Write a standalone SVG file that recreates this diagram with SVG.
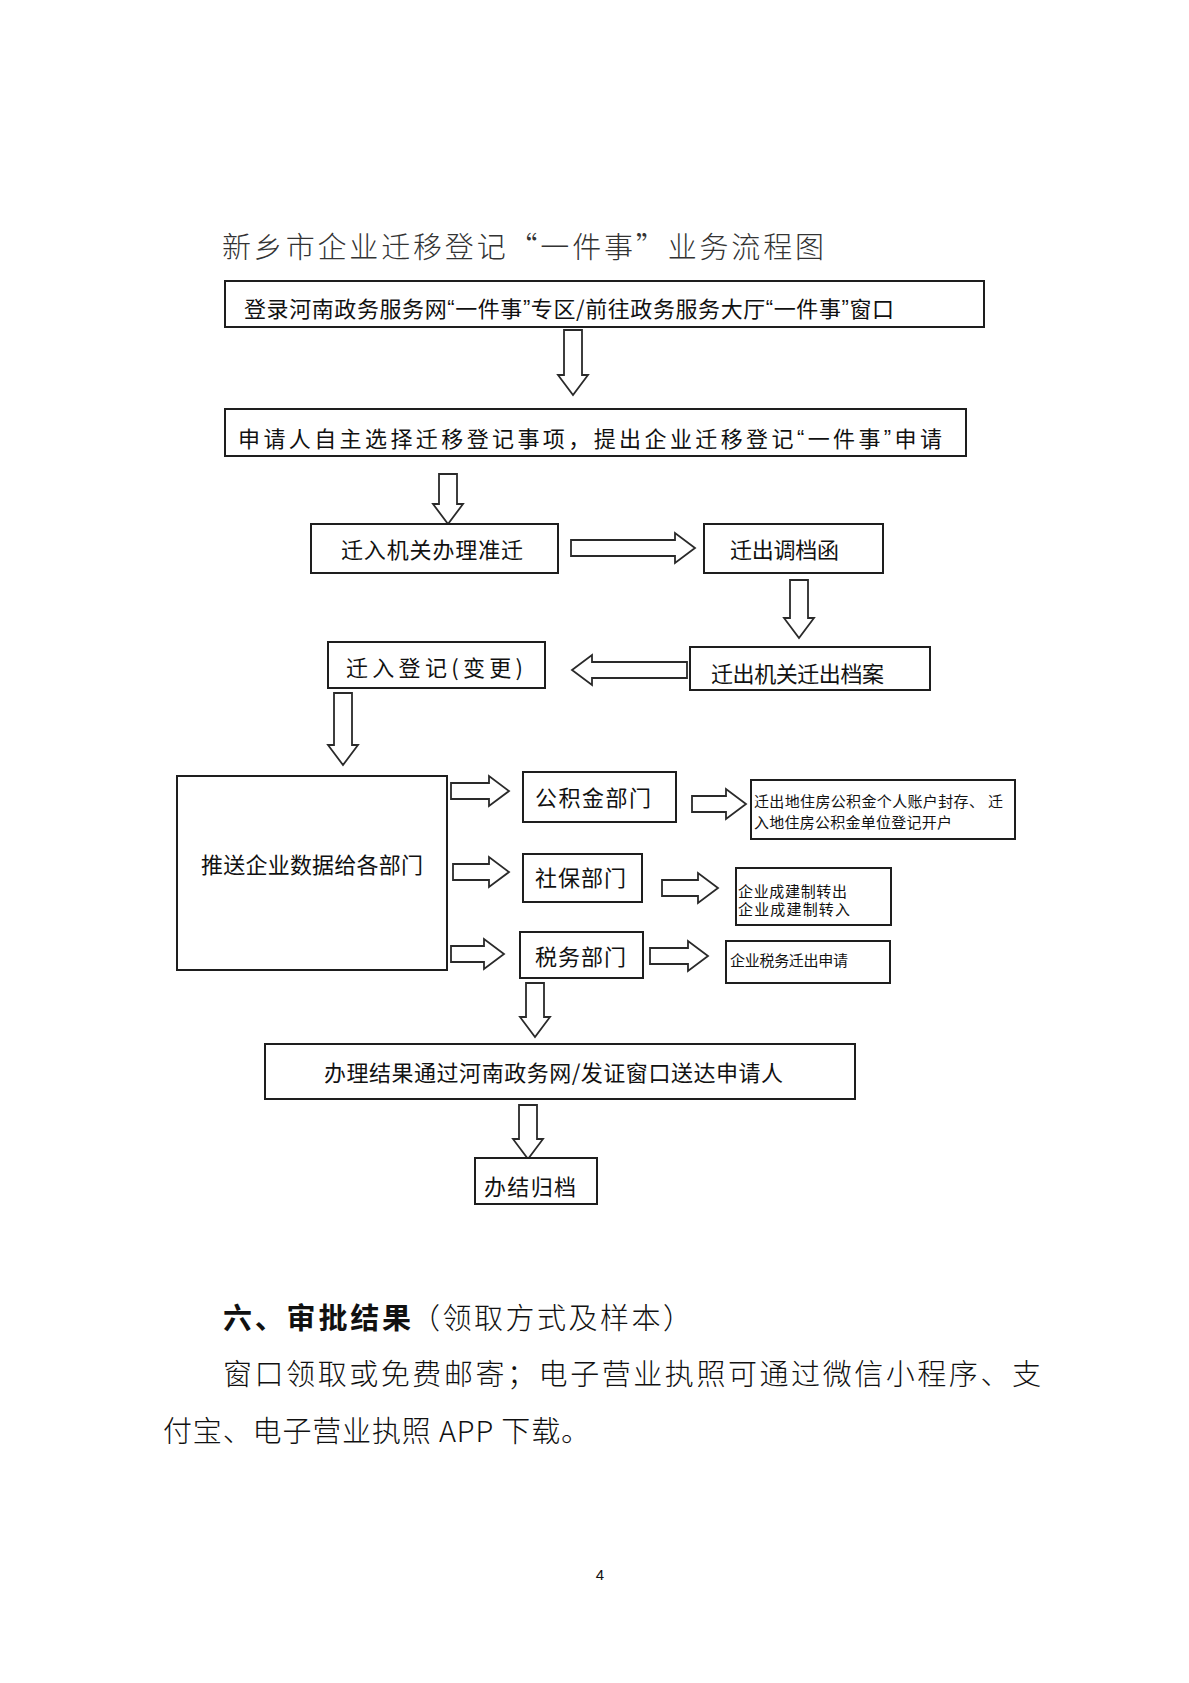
<svg xmlns="http://www.w3.org/2000/svg" width="1189" height="1683" viewBox="0 0 1189 1683">
<style>
.box{fill:#fff;stroke:#1e1e1e;stroke-width:2}
.arr{fill:#fff;stroke:#2a2a2a;stroke-width:1.8;stroke-linejoin:miter}
.t{font-family:"Noto Sans CJK SC","Liberation Sans",sans-serif;fill:#111;dominant-baseline:central}
.n{font-size:22px}
.s{font-size:15px}
.q{font-family:"Liberation Sans",sans-serif}
.title{font-family:"Noto Sans CJK SC","Liberation Sans",sans-serif;font-size:29px;font-weight:300;fill:#333;dominant-baseline:central}
.body{font-family:"Noto Sans CJK SC","Liberation Serif",serif;font-size:29px;font-weight:300;fill:#111;dominant-baseline:central}
.bold{font-weight:700}
</style>
<rect width="1189" height="1683" fill="#fff"/>
<text class="title" x="222" y="245" textLength="602" lengthAdjust="spacing">新乡市企业迁移登记“一件事”业务流程图</text>

<g id="connectors">
<path class="arr" d="M564,330 H582 V375 H588 L573,395 L558,375 H564 Z"/>
<path class="arr" d="M439,474 H457 V504 H463 L448,524 L433,504 H439 Z"/>
<path class="arr" d="M571,540 H675 V533 L695,548 L675,563 V556 H571 Z"/>
<path class="arr" d="M790,580 H808 V618 H814 L799,638 L784,618 H790 Z"/>
<path class="arr" d="M687,662 H592 V655 L572,670 L592,685 V678 H687 Z"/>
<path class="arr" d="M334,693 H352 V745 H358 L343,765 L328,745 H334 Z"/>
<path class="arr" d="M451,783 H489 V776 L509,791 L489,806 V799 H451 Z"/>
<path class="arr" d="M692,796 H726 V789 L746,804 L726,819 V812 H692 Z"/>
<path class="arr" d="M453,864 H489 V857 L509,872 L489,887 V880 H453 Z"/>
<path class="arr" d="M662,880 H698 V873 L718,888 L698,903 V896 H662 Z"/>
<path class="arr" d="M451,946 H484 V939 L504,954 L484,969 V962 H451 Z"/>
<path class="arr" d="M650,948 H688 V941 L708,956 L688,971 V964 H650 Z"/>
<path class="arr" d="M526,983 H544 V1017 H550 L535,1037 L520,1017 H526 Z"/>
<path class="arr" d="M519,1105 H537 V1139 H543 L528,1159 L513,1139 H519 Z"/>
</g>

<g id="n1"><rect class="box" x="225" y="281" width="759" height="46"/>
<text class="t n" x="244" y="307" textLength="650" lengthAdjust="spacing">登录河南政务服务网<tspan class="q">“</tspan>一件事<tspan class="q">”</tspan>专区/前往政务服务大厅<tspan class="q">“</tspan>一件事<tspan class="q">”</tspan>窗口</text></g>
<g id="n2"><rect class="box" x="225" y="409" width="741" height="47"/>
<text class="t n" x="238" y="437" textLength="704" lengthAdjust="spacing">申请人自主选择迁移登记事项，提出企业迁移登记<tspan class="q">“</tspan>一件事<tspan class="q">”</tspan>申请</text></g>
<g id="n3"><rect class="box" x="311" y="524" width="247" height="49"/>
<text class="t n" x="341" y="548" textLength="182" lengthAdjust="spacing">迁入机关办理准迁</text></g>
<g id="n4"><rect class="box" x="704" y="524" width="179" height="49"/>
<text class="t n" x="730" y="548" textLength="109" lengthAdjust="spacing">迁出调档函</text></g>
<g id="n5"><rect class="box" x="690" y="647" width="240" height="43"/>
<text class="t n" x="711" y="672" textLength="173" lengthAdjust="spacing">迁出机关迁出档案</text></g>
<g id="n6"><rect class="box" x="328" y="642" width="217" height="46"/>
<text class="t n" x="346" y="666" textLength="177" lengthAdjust="spacing">迁入登记(变更)</text></g>
<g id="n7"><rect class="box" x="177" y="776" width="270" height="194"/>
<text class="t n" x="201" y="863" textLength="222" lengthAdjust="spacing">推送企业数据给各部门</text></g>
<g id="n8"><rect class="box" x="523" y="772" width="153" height="50"/>
<text class="t n" x="535" y="796" textLength="116" lengthAdjust="spacing">公积金部门</text></g>
<g id="n9"><rect class="box" x="751" y="780" width="264" height="59"/>
<text class="t s" x="754" y="800" textLength="249" lengthAdjust="spacing">迁出地住房公积金个人账户封存、 迁</text>
<text class="t s" x="754" y="821" textLength="198" lengthAdjust="spacing">入地住房公积金单位登记开户</text></g>
<g id="n10"><rect class="box" x="523" y="854" width="119" height="48"/>
<text class="t n" x="535" y="876" textLength="91" lengthAdjust="spacing">社保部门</text></g>
<g id="n11"><rect class="box" x="736" y="868" width="155" height="57"/>
<text class="t s" x="738" y="890" textLength="109" lengthAdjust="spacing">企业成建制转出</text>
<text class="t s" x="738" y="908" textLength="112" lengthAdjust="spacing">企业成建制转入</text></g>
<g id="n12"><rect class="box" x="520" y="932" width="123" height="46"/>
<text class="t n" x="535" y="955" textLength="91" lengthAdjust="spacing">税务部门</text></g>
<g id="n13"><rect class="box" x="726" y="941" width="164" height="42"/>
<text class="t s" x="730" y="959" textLength="118" lengthAdjust="spacing">企业税务迁出申请</text></g>
<g id="n14"><rect class="box" x="265" y="1044" width="590" height="55"/>
<text class="t n" x="324" y="1071" textLength="459" lengthAdjust="spacing">办理结果通过河南政务网/发证窗口送达申请人</text></g>
<g id="n15"><rect class="box" x="475" y="1158" width="122" height="46"/>
<text class="t n" x="484" y="1185" textLength="92" lengthAdjust="spacing">办结归档</text></g>

<text class="body bold" x="223" y="1316" textLength="188" lengthAdjust="spacing">六、审批结果</text>
<text class="body" x="411" y="1316" textLength="281" lengthAdjust="spacing">（领取方式及样本）</text>
<text class="body" x="223" y="1372" textLength="818" lengthAdjust="spacing">窗口领取或免费邮寄；电子营业执照可通过微信小程序、支</text>
<text class="body" x="163" y="1429" textLength="427" lengthAdjust="spacing">付宝、电子营业执照 APP 下载。</text>
<text x="600" y="1574" font-family="Liberation Sans, sans-serif" font-size="15" fill="#111" text-anchor="middle" dominant-baseline="central">4</text>
</svg>
